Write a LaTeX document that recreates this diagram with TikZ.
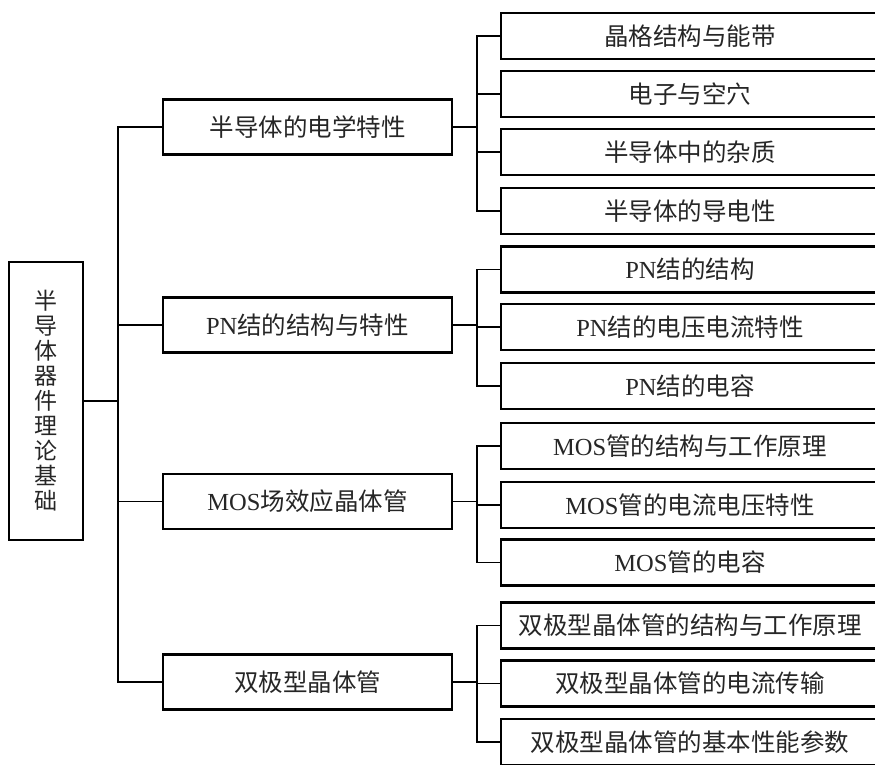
\documentclass[tikz,border=0pt]{standalone}
\usepackage{fontspec}
\setmainfont{Liberation Serif}
\newfontfamily\cjk{Noto Sans CJK SC}
\newcommand\zh[1]{{\cjk #1}}
\begin{document}
\begin{tikzpicture}[x=1pt,y=-1pt,
  box/.style={draw=black,line width=2.6pt,rectangle,inner sep=0pt,font=\fontsize{24.5}{28}\selectfont,text=black!85},
  lone/.style={box,minimum width=289pt,minimum height=55pt},
  ltwo/.style={box,minimum width=378pt,minimum height=46pt},
  conn/.style={line width=1.6pt,draw=black}]
\useasboundingbox[fill=white] (0,0) rectangle (875,765);
% root
\node[box,minimum width=74pt,minimum height=278pt,align=center,font=\fontsize{23}{25}\selectfont] (root) at (46,401)
  {\zh{半}\\\zh{导}\\\zh{体}\\\zh{器}\\\zh{件}\\\zh{理}\\\zh{论}\\\zh{基}\\\zh{础}};
% level 1
\node[lone] (a) at (307.5,127) {\zh{半导体的电学特性}};
\node[lone] (b) at (307.5,325) {PN\zh{结的结构与特性}};
\node[lone] (c) at (307.5,501.5) {MOS\zh{场效应晶体管}};
\node[lone] (d) at (307.5,682) {\zh{双极型晶体管}};
% level 2
\node[ltwo] (a1) at (690,36) {\zh{晶格结构与能带}};
\node[ltwo] (a2) at (690,94) {\zh{电子与空穴}};
\node[ltwo] (a3) at (690,152) {\zh{半导体中的杂质}};
\node[ltwo] (a4) at (690,211) {\zh{半导体的导电性}};
\node[ltwo] (b1) at (690,269.5) {PN\zh{结的结构}};
\node[ltwo] (b2) at (690,327) {PN\zh{结的电压电流特性}};
\node[ltwo] (b3) at (690,386) {PN\zh{结的电容}};
\node[ltwo] (c1) at (690,446) {MOS\zh{管的结构与工作原理}};
\node[ltwo] (c2) at (690,505) {MOS\zh{管的电流电压特性}};
\node[ltwo] (c3) at (690,562.5) {MOS\zh{管的电容}};
\node[ltwo] (d1) at (690,625.5) {\zh{双极型晶体管的结构与工作原理}};
\node[ltwo] (d2) at (690,683.5) {\zh{双极型晶体管的电流传输}};
\node[ltwo] (d3) at (690,742) {\zh{双极型晶体管的基本性能参数}};
% trunks
\coordinate (t0) at (118,0);
\coordinate (t1) at (477,0);
\draw[conn] (root.east) -- (root.east -| t0);
\draw[conn] (a.west) -- (a.west -| t0) -- (d.west -| t0) -- (d.west);
\draw[conn] (b.west) -- (b.west -| t0);
\draw[conn] (c.west) -- (c.west -| t0);
% group a
\draw[conn] (a.east) -- (a.east -| t1);
\draw[conn] (a1.west) -- (a1.west -| t1) -- (a4.west -| t1) -- (a4.west);
\draw[conn] (a2.west) -- (a2.west -| t1);
\draw[conn] (a3.west) -- (a3.west -| t1);
% group b
\draw[conn] (b.east) -- (b.east -| t1);
\draw[conn] (b1.west) -- (b1.west -| t1) -- (b3.west -| t1) -- (b3.west);
\draw[conn] (b2.west) -- (b2.west -| t1);
% group c
\draw[conn] (c.east) -- (c.east -| t1);
\draw[conn] (c1.west) -- (c1.west -| t1) -- (c3.west -| t1) -- (c3.west);
\draw[conn] (c2.west) -- (c2.west -| t1);
% group d
\draw[conn] (d.east) -- (d.east -| t1);
\draw[conn] (d1.west) -- (d1.west -| t1) -- (d3.west -| t1) -- (d3.west);
\draw[conn] (d2.west) -- (d2.west -| t1);
\end{tikzpicture}
\end{document}
